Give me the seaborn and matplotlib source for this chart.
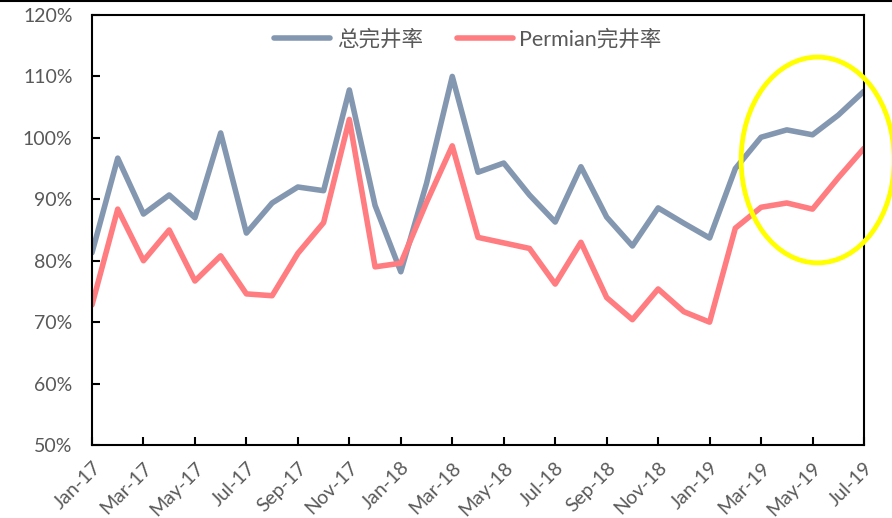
import numpy as np
import pandas as pd
import matplotlib
matplotlib.use("Agg")
import matplotlib.pyplot as plt
import seaborn as sns
from matplotlib.patches import Ellipse
from matplotlib.ticker import FuncFormatter

months = ["Jan-17","Feb-17","Mar-17","Apr-17","May-17","Jun-17","Jul-17","Aug-17","Sep-17","Oct-17",
          "Nov-17","Dec-17","Jan-18","Feb-18","Mar-18","Apr-18","May-18","Jun-18","Jul-18","Aug-18",
          "Sep-18","Oct-18","Nov-18","Dec-18","Jan-19","Feb-19","Mar-19","Apr-19","May-19","Jun-19","Jul-19"]
total_rate = [81.3, 96.7, 87.6, 90.7, 87.0, 100.8, 84.5, 89.4, 92.0, 91.4,
              107.8, 89.0, 78.2, 92.6, 110.0, 94.4, 95.9, 90.7, 86.3, 95.3,
              87.1, 82.4, 88.6, 86.1, 83.7, 95.0, 100.1, 101.3, 100.5, 103.7, 107.6]
permian_rate = [72.8, 88.4, 80.0, 85.0, 76.7, 80.8, 74.6, 74.3, 81.2, 86.2,
                103.0, 79.0, 79.6, 89.5, 98.7, 83.8, 82.9, 82.0, 76.2, 83.0,
                74.0, 70.4, 75.4, 71.7, 70.0, 85.3, 88.7, 89.4, 88.4, 93.5, 98.3]
series_names = ["总完井率", "Permian完井率"]
tick_labels = months[::2]
y_ticks = [50, 60, 70, 80, 90, 100, 110, 120]

sns.set_theme(style="white")
plt.rcParams['font.family'] = ['Lato', 'Noto Sans CJK SC', 'DejaVu Sans']

df = pd.DataFrame({
    "idx": list(range(len(months))) * 2,
    "value": total_rate + permian_rate,
    "series": [series_names[0]] * len(months) + [series_names[1]] * len(months),
})

fig = plt.figure(figsize=(8.92, 5.18), dpi=100)
ax = fig.add_axes([92/892, 73/518, (864-92)/892, (445-15)/518])
palette = {series_names[0]: "#8497B0", series_names[1]: "#FF7C80"}
sns.lineplot(data=df, x="idx", y="value", hue="series", palette=palette,
             linewidth=4, ax=ax, legend=True)

ax.set_xlim(0, len(months) - 1)
ax.set_ylim(50, 120)
ax.set_xticks(range(0, len(months), 2))
ax.set_xticklabels(tick_labels, rotation=45, ha="right", rotation_mode="anchor",
                   fontsize=14, color="#595959")
ax.set_yticks(y_ticks)
ax.yaxis.set_major_formatter(FuncFormatter(lambda v, p: f"{v:.0f}%"))
ax.tick_params(axis="both", direction="in", length=6, width=1.5, color="black",
               left=True, bottom=True)
ax.tick_params(axis="y", labelsize=14, labelcolor="#595959", pad=14)
ax.tick_params(axis="x", pad=10)
ax.set_xlabel("")
ax.set_ylabel("")
for s in ax.spines.values():
    s.set_color("black")
    s.set_linewidth(1.5)
    s.set_visible(True)

leg = ax.legend(loc="upper center", bbox_to_anchor=(0.487, 1.0), ncol=2, frameon=False,
                prop={"size": 15.5}, handlelength=2.6, handletextpad=0.3,
                columnspacing=1.6, borderaxespad=0.25)
for t in leg.get_texts():
    t.set_color("#595959")
for l in leg.get_lines():
    l.set_linewidth(4)

ell = Ellipse((28.2, 96.4), width=5.95, height=33.5, fill=False, edgecolor="#FFFF00",
              linewidth=3.5, clip_on=False, zorder=5)
ax.add_patch(ell)

fig.add_artist(plt.Line2D([0, 1], [0.999, 0.999], color="black", linewidth=1.5,
                          transform=fig.transFigure))

fig.savefig("out.png", dpi=100)
